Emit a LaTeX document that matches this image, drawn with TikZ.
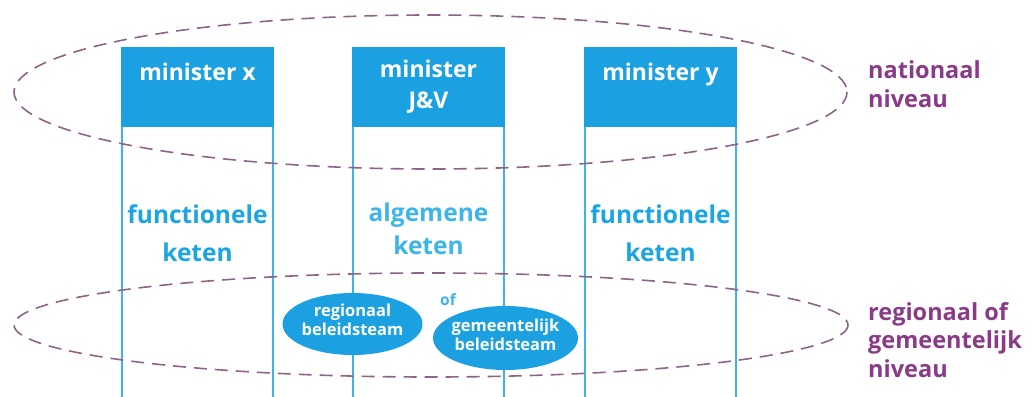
\documentclass[tikz,border=0pt]{standalone}
\usepackage{fontspec}
\setmainfont{Open Sans}
\usetikzlibrary{shapes.geometric}
\definecolor{hdrblue}{HTML}{1BA1E2}
\definecolor{bordblue}{HTML}{3DB3EC}
\definecolor{txtblue}{HTML}{1CA5E3}
\definecolor{lighttxt}{HTML}{3DB5EA}
\definecolor{dashpurp}{HTML}{8E6388}
\definecolor{lblpurp}{HTML}{8A3A88}
\begin{document}
\begin{tikzpicture}[x=1pt,y=-1pt,
  colbox/.style={draw=bordblue,line width=1.6pt,fill=white},
  hdrtxt/.style={text=white,font=\fontsize{23}{31}\selectfont\bfseries,align=center,anchor=base,inner sep=0pt},
  keten/.style={text=txtblue,font=\fontsize{24.5}{37.5}\selectfont\bfseries,align=center,anchor=base,inner sep=0pt},
  levelring/.style={draw=dashpurp,line width=1.6pt,dash pattern=on 13pt off 8pt},
  team/.style={ellipse,fill=hdrblue,inner sep=0pt},
  teamtxt/.style={text=white,font=\fontsize{16.5}{18.5}\selectfont\bfseries,align=center,anchor=base,inner sep=0pt},
  lvl/.style={text=lblpurp,font=\fontsize{23.5}{28.5}\selectfont\bfseries,align=left,anchor=base west,inner sep=0pt}]
\useasboundingbox (0,0) rectangle (1032,396);
% columns
\draw[colbox] (122,48) rectangle (273,400);
\draw[colbox] (353,48) rectangle (504,400);
\draw[colbox] (585,48) rectangle (736,400);
\fill[hdrblue] (121.2,47.2) rectangle (273.8,127);
\fill[hdrblue] (352.2,47.2) rectangle (504.8,127);
\fill[hdrblue] (584.2,47.2) rectangle (736.8,127);
\node[hdrtxt] (mx) at (197.5,80) {minister x};
\node[hdrtxt] (mjv) at (428.5,108) {minister\\J\&V};
\node[hdrtxt] (my) at (660.5,80) {minister y};
\node[keten] (fk1) at (197.5,261) {functionele\\keten};
\node[keten,text=lighttxt,font=\fontsize{24.5}{33}\selectfont\bfseries] (ak) at (428.5,254) {algemene\\keten};
\node[keten] (fk2) at (660.5,261) {functionele\\keten};
% level rings
\draw[levelring] (430.5,92) ellipse [x radius=416.5, y radius=77];
\draw[levelring] (431,325) ellipse [x radius=417, y radius=52];
% teams
\node[team,minimum width=140pt,minimum height=62pt] (rb) at (352.5,324) {};
\node[teamtxt] (rbt) at (rb.center) [yshift=-11pt] {regionaal\\beleidsteam};
\node[team,minimum width=145pt,minimum height=64pt] (gb) at (505.5,338) {};
\node[teamtxt] (gbt) at (gb.center) [yshift=-12pt] {gemeentelijk\\beleidsteam};
\node[text=lighttxt,font=\fontsize{15.5}{18}\selectfont\bfseries,anchor=base,inner sep=0pt] (of) at (448,305) {of};
% level labels
\node[lvl] (nat) at (868,107) {nationaal\\niveau};
\node[lvl] (reg) at (868,377) {regionaal of\\gemeentelijk\\niveau};
\end{tikzpicture}
\end{document}
